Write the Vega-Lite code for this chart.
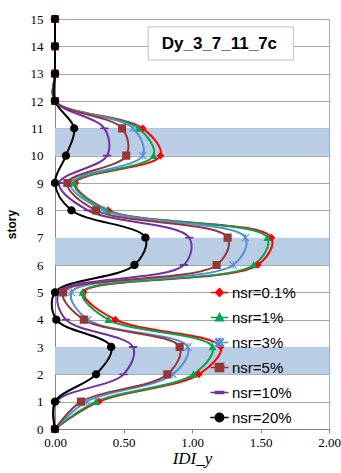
{
  "$schema": "https://vega.github.io/schema/vega-lite/v6.json",
  "width": 274,
  "height": 410,
  "autosize": {"type": "none"},
  "padding": {"left": 55, "top": 19, "right": 12, "bottom": 44},
  "background": "white",
  "config": {"view": {"stroke": "#8eb4e3", "strokeWidth": 1}, "axis": {"labelOverlap": false, "labelFlush": false}, "axisY": {"labelOverlap": false}},
  "datasets": {
    "bands": [{"lo": 10, "hi": 11}, {"lo": 6, "hi": 7}, {"lo": 2, "hi": 3}],
    "box": [{"x1": 0.68, "x2": 1.74, "y1": 13.5, "y2": 14.71, "tx": 1.2, "ty": 14.1, "label": "Dy_3_7_11_7c"}],
    "pts": [
      {"s":"nsr=0.1%","story":0,"v":0},{"s":"nsr=0.1%","story":1,"v":0.32},{"s":"nsr=0.1%","story":2,"v":1.05},{"s":"nsr=0.1%","story":3,"v":1.21},{"s":"nsr=0.1%","story":4,"v":0.44},{"s":"nsr=0.1%","story":5,"v":0.21},{"s":"nsr=0.1%","story":6,"v":1.48},{"s":"nsr=0.1%","story":7,"v":1.58},{"s":"nsr=0.1%","story":8,"v":0.39},{"s":"nsr=0.1%","story":9,"v":0.15},{"s":"nsr=0.1%","story":10,"v":0.77},{"s":"nsr=0.1%","story":11,"v":0.64},{"s":"nsr=0.1%","story":12,"v":0},{"s":"nsr=0.1%","story":13,"v":0},{"s":"nsr=0.1%","story":14,"v":0},{"s":"nsr=0.1%","story":15,"v":0},
      {"s":"nsr=1%","story":0,"v":0},{"s":"nsr=1%","story":1,"v":0.30},{"s":"nsr=1%","story":2,"v":1.01},{"s":"nsr=1%","story":3,"v":1.15},{"s":"nsr=1%","story":4,"v":0.39},{"s":"nsr=1%","story":5,"v":0.20},{"s":"nsr=1%","story":6,"v":1.45},{"s":"nsr=1%","story":7,"v":1.55},{"s":"nsr=1%","story":8,"v":0.38},{"s":"nsr=1%","story":9,"v":0.14},{"s":"nsr=1%","story":10,"v":0.72},{"s":"nsr=1%","story":11,"v":0.61},{"s":"nsr=1%","story":12,"v":0},{"s":"nsr=1%","story":13,"v":0},{"s":"nsr=1%","story":14,"v":0},{"s":"nsr=1%","story":15,"v":0},
      {"s":"nsr=3%","story":0,"v":0},{"s":"nsr=3%","story":1,"v":0.23},{"s":"nsr=3%","story":2,"v":0.86},{"s":"nsr=3%","story":3,"v":0.97},{"s":"nsr=3%","story":4,"v":0.24},{"s":"nsr=3%","story":5,"v":0.12},{"s":"nsr=3%","story":6,"v":1.30},{"s":"nsr=3%","story":7,"v":1.39},{"s":"nsr=3%","story":8,"v":0.36},{"s":"nsr=3%","story":9,"v":0.11},{"s":"nsr=3%","story":10,"v":0.64},{"s":"nsr=3%","story":11,"v":0.57},{"s":"nsr=3%","story":12,"v":0},{"s":"nsr=3%","story":13,"v":0},{"s":"nsr=3%","story":14,"v":0},{"s":"nsr=3%","story":15,"v":0},
      {"s":"nsr=5%","story":0,"v":0},{"s":"nsr=5%","story":1,"v":0.19},{"s":"nsr=5%","story":2,"v":0.82},{"s":"nsr=5%","story":3,"v":0.91},{"s":"nsr=5%","story":4,"v":0.21},{"s":"nsr=5%","story":5,"v":0.06},{"s":"nsr=5%","story":6,"v":1.18},{"s":"nsr=5%","story":7,"v":1.26},{"s":"nsr=5%","story":8,"v":0.30},{"s":"nsr=5%","story":9,"v":0.09},{"s":"nsr=5%","story":10,"v":0.52},{"s":"nsr=5%","story":11,"v":0.49},{"s":"nsr=5%","story":12,"v":0},{"s":"nsr=5%","story":13,"v":0},{"s":"nsr=5%","story":14,"v":0},{"s":"nsr=5%","story":15,"v":0},
      {"s":"nsr=10%","story":0,"v":0},{"s":"nsr=10%","story":1,"v":0.01},{"s":"nsr=10%","story":2,"v":0.50},{"s":"nsr=10%","story":3,"v":0.57},{"s":"nsr=10%","story":4,"v":0.08},{"s":"nsr=10%","story":5,"v":0.03},{"s":"nsr=10%","story":6,"v":0.94},{"s":"nsr=10%","story":7,"v":0.98},{"s":"nsr=10%","story":8,"v":0.24},{"s":"nsr=10%","story":9,"v":0.03},{"s":"nsr=10%","story":10,"v":0.38},{"s":"nsr=10%","story":11,"v":0.36},{"s":"nsr=10%","story":12,"v":0},{"s":"nsr=10%","story":13,"v":0},{"s":"nsr=10%","story":14,"v":0},{"s":"nsr=10%","story":15,"v":0},
      {"s":"nsr=20%","story":0,"v":0},{"s":"nsr=20%","story":1,"v":0.0},{"s":"nsr=20%","story":2,"v":0.30},{"s":"nsr=20%","story":3,"v":0.41},{"s":"nsr=20%","story":4,"v":0.01},{"s":"nsr=20%","story":5,"v":0.0},{"s":"nsr=20%","story":6,"v":0.58},{"s":"nsr=20%","story":7,"v":0.66},{"s":"nsr=20%","story":8,"v":0.12},{"s":"nsr=20%","story":9,"v":0.0},{"s":"nsr=20%","story":10,"v":0.08},{"s":"nsr=20%","story":11,"v":0.14},{"s":"nsr=20%","story":12,"v":0},{"s":"nsr=20%","story":13,"v":0},{"s":"nsr=20%","story":14,"v":0},{"s":"nsr=20%","story":15,"v":0}
    ]
  },
  "layer": [
    {
      "data": {"name": "bands"},
      "mark": {"type": "rect", "fill": "#b9cde5"},
      "encoding": {
        "x": {"datum": 0, "type": "quantitative", "scale": {"domain": [0, 2], "nice": false, "zero": false},
          "axis": {"values": [0, 0.5, 1, 1.5, 2], "format": ".2f", "grid": false, "title": "IDI_y", "labelOverlap": false, "labelFlush": false,
            "labelFont": "Liberation Serif", "labelFontSize": 13, "labelColor": "#000",
            "titleFont": "Liberation Serif", "titleFontSize": 17, "titleFontStyle": "italic", "titleFontWeight": "normal", "titleColor": "#000", "titlePadding": 1,
            "domainColor": "#868686", "tickColor": "#868686", "tickSize": 4, "labelPadding": 3}},
        "x2": {"datum": 2},
        "y": {"field": "lo", "type": "quantitative", "scale": {"domain": [0, 15], "nice": false, "zero": false},
          "axis": {"values": [0,1,2,3,4,5,6,7,8,9,10,11,12,13,14,15], "tickCount": 16, "grid": true, "gridColor": "#a6a6a6", "title": "story", "labelOverlap": false, "labelFlush": false,
            "labelFont": "Liberation Serif", "labelFontSize": 13, "labelColor": "#000",
            "titleFont": "Liberation Sans", "titleFontSize": 12, "titleFontWeight": "bold", "titleColor": "#000", "titlePadding": 12,
            "domainColor": "#868686", "ticks": false, "labelPadding": 12}},
        "y2": {"field": "hi"}
      }
    },
    {
      "data": {"name": "pts"},
      "mark": {"type": "line", "interpolate": "catmull-rom", "strokeWidth": 2},
      "encoding": {
        "x": {"field": "v", "type": "quantitative"},
        "y": {"field": "story", "type": "quantitative"},
        "order": {"field": "story"},
        "color": {"field": "s", "type": "nominal",
          "scale": {"domain": ["nsr=0.1%","nsr=1%","nsr=3%","nsr=5%","nsr=10%","nsr=20%"],
                    "range": ["#ff0000","#00a651","#558ed5","#953735","#7030a0","#000000"]}}
      }
    },
    {
      "data": {"name": "pts"},
      "mark": {"type": "point", "filled": true, "opacity": 1},
      "encoding": {
        "x": {"field": "v", "type": "quantitative"},
        "y": {"field": "story", "type": "quantitative"},
        "size": {"field": "s", "type": "nominal", "legend": null,
          "scale": {"domain": ["nsr=0.1%","nsr=1%","nsr=3%","nsr=5%","nsr=10%","nsr=20%"],
                    "range": [60, 70, 60, 55, 60, 90]}},
        "color": {"field": "s", "type": "nominal",
          "scale": {"domain": ["nsr=0.1%","nsr=1%","nsr=3%","nsr=5%","nsr=10%","nsr=20%"],
                    "range": ["#ff0000","#00a651","#558ed5","#953735","#7030a0","#000000"]},
          "legend": {"orient": "none", "legendX": 157, "legendY": 266, "title": null,
            "labelFont": "Liberation Sans", "labelFontSize": 15, "labelColor": "#000", "rowPadding": 9, "symbolSize": 60, "labelOffset": 5,
            "encode": {"symbols": {"update": {"stroke": {"scale": "color", "field": "value"}, "strokeWidth": {"value": 1.6}}}}}},
        "shape": {"field": "s", "type": "nominal",
          "scale": {"domain": ["nsr=0.1%","nsr=1%","nsr=3%","nsr=5%","nsr=10%","nsr=20%"],
                    "range": [
                      "M-2.2,0L2.2,0M0,-1L1,0L0,1L-1,0Z",
                      "M-2.2,0L2.2,0M0,-1L1,0.85L-1,0.85Z",
                      "M-2.2,0L2.2,0M-1,-0.8L-0.8,-1L1,0.8L0.8,1Z M1,-0.8L0.8,-1L-1,0.8L-0.8,1Z M-0.12,-1L0.12,-1L0.12,1L-0.12,1Z",
                      "M-2.2,0L2.2,0M-1,-1L1,-1L1,1L-1,1Z",
                      "M-2.2,0L2.2,0M-1,-0.22L1,-0.22L1,0.22L-1,0.22Z",
                      "M-2.2,0L2.2,0M-1,0A1,1 0 1,0 1,0A1,1 0 1,0 -1,0Z"]}}
      }
    },
    {
      "data": {"name": "box"},
      "mark": {"type": "rect", "fill": "white", "stroke": "#bfbfbf", "strokeWidth": 1},
      "encoding": {
        "x": {"field": "x1", "type": "quantitative"},
        "x2": {"field": "x2"},
        "y": {"field": "y1", "type": "quantitative"},
        "y2": {"field": "y2"}
      }
    },
    {
      "data": {"name": "box"},
      "mark": {"type": "text", "font": "Liberation Sans", "fontWeight": "bold", "fontSize": 17, "color": "#000", "align": "center", "baseline": "middle"},
      "encoding": {
        "x": {"field": "tx", "type": "quantitative"},
        "y": {"field": "ty", "type": "quantitative"},
        "text": {"field": "label"}
      }
    }
  ]
}
